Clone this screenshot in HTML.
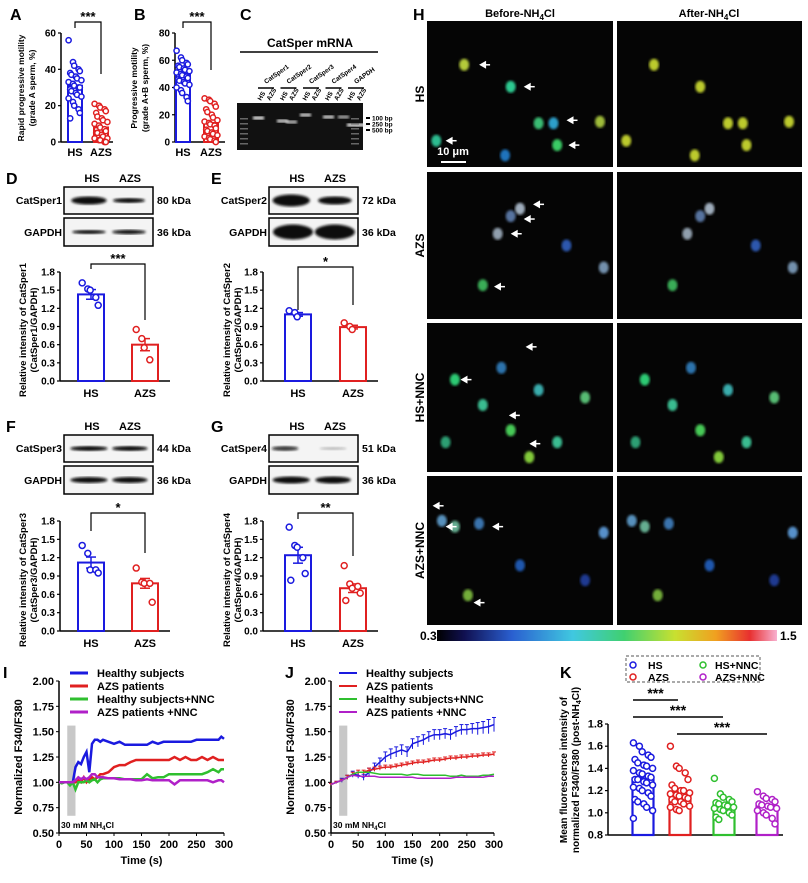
<!DOCTYPE html>
<html><head><meta charset="utf-8"><style>
html,body{margin:0;padding:0;background:#fff}
svg{display:block;font-family:"Liberation Sans",Arial,sans-serif;font-weight:bold}
</style></head><body>
<svg id="fig" width="808" height="883" viewBox="0 0 808 883" xmlns="http://www.w3.org/2000/svg">
<defs>
<filter id="blur1"><feGaussianBlur stdDeviation="1.2"/></filter>
<filter id="blur2"><feGaussianBlur stdDeviation="2"/></filter>
<linearGradient id="cbar" x1="0" x2="1" y1="0" y2="0">
<stop offset="0" stop-color="#000"/><stop offset="0.08" stop-color="#101050"/><stop offset="0.22" stop-color="#2a5fd0"/><stop offset="0.4" stop-color="#40c8e0"/><stop offset="0.55" stop-color="#40d070"/><stop offset="0.7" stop-color="#c8e030"/><stop offset="0.82" stop-color="#f0a020"/><stop offset="0.92" stop-color="#e83030"/><stop offset="1" stop-color="#f8b0d0"/>
</linearGradient>
</defs>
<g id="root"></g>
</svg>
<script>
// ---------- DATA ----------
const groupsAB = ["HS","AZS"];
const A_means = [31, 8];
const A_HS = [56,44,42,40,39,38,37,36,35,34,33,32,31,30,30,29,28,27,26,25,24,22,20,18,16,13];
const A_AZS = [21,20,19,18,17,16,14,13,12,11,10,9,8,7,6,5,5,4,3,2,2,1,1,0,0];
const A_ticks = [0,20,40,60];
const B_means = [50, 14];
const B_HS = [67,62,60,58,57,56,55,54,53,52,51,50,49,48,47,46,45,44,43,42,40,38,36,33,30];
const B_AZS = [32,31,30,28,26,24,22,20,18,16,15,14,13,12,10,9,8,7,6,5,4,3,2,1,0];
const B_ticks = [0,20,40,60,80];
const wb_ticks = [0.0,0.3,0.6,0.9,1.2,1.5,1.8];
const D_means = [1.43, 0.60]; const D_sem = [0.08, 0.10];
const D_HS = [1.62,1.52,1.50,1.38,1.25]; const D_AZS = [0.85,0.70,0.55,0.35];
const E_means = [1.10, 0.89]; const E_sem = [0.03, 0.03];
const E_HS = [1.16,1.13,1.06]; const E_AZS = [0.96,0.90,0.85];
const F_means = [1.12, 0.78]; const F_sem = [0.09, 0.08];
const F_HS = [1.40,1.27,1.00,1.00,0.95]; const F_AZS = [1.03,0.80,0.78,0.78,0.47];
const G_means = [1.24, 0.70]; const G_sem = [0.13, 0.07];
const G_HS = [1.70,1.40,1.37,1.20,0.94,0.83]; const G_AZS = [1.07,0.77,0.70,0.73,0.62,0.50];

const I_time = [0,5,10,15,20,25,30,35,40,45,50,55,60,65,70,75,80,90,100,110,120,130,140,150,160,170,180,190,200,210,220,230,240,250,260,270,280,290,295,300];
const I_blue = [1.0,1.0,1.0,1.0,1.0,1.0,1.15,1.2,1.18,1.25,1.3,1.1,1.38,1.42,1.42,1.4,1.42,1.4,1.38,1.4,1.37,1.37,1.37,1.37,1.37,1.4,1.38,1.4,1.4,1.4,1.4,1.4,1.4,1.42,1.42,1.42,1.42,1.42,1.45,1.43];
const I_red = [1.0,1.0,1.0,1.0,1.0,1.0,1.0,1.02,1.0,1.05,1.0,1.03,1.05,1.03,1.05,1.08,1.08,1.1,1.15,1.17,1.17,1.2,1.22,1.22,1.22,1.22,1.22,1.22,1.22,1.25,1.22,1.25,1.22,1.22,1.25,1.22,1.25,1.22,1.22,1.22];
const I_green = [1.0,0.99,1.0,1.0,0.97,1.0,0.93,1.0,1.0,1.0,1.02,1.0,1.02,1.03,1.0,1.03,1.04,1.04,1.04,1.04,1.03,1.03,1.03,1.03,1.08,1.04,1.05,1.05,1.08,1.08,1.08,1.08,1.08,1.08,1.08,1.1,1.13,1.1,1.13,1.13];
const I_purple = [1.0,1.0,1.0,1.0,1.0,1.0,1.02,1.05,1.03,1.05,1.03,1.05,1.08,1.08,1.05,1.05,1.05,1.04,1.04,1.03,1.03,1.03,1.02,1.02,1.03,1.02,1.02,1.02,1.02,0.98,1.02,1.02,1.02,1.02,1.02,1.02,1.0,1.02,1.02,1.0];

const J_time = [0,10,20,30,40,50,60,70,80,90,100,110,120,130,140,150,160,170,180,190,200,210,220,230,240,250,260,270,280,290,300];
const J_blue = [0.98,1.0,1.02,1.05,1.08,1.07,1.05,1.1,1.15,1.2,1.25,1.28,1.3,1.32,1.3,1.38,1.4,1.42,1.45,1.47,1.47,1.48,1.47,1.5,1.52,1.52,1.53,1.53,1.54,1.55,1.57];
const J_blueErr = [0.01,0.01,0.02,0.02,0.03,0.03,0.03,0.04,0.04,0.04,0.05,0.05,0.05,0.05,0.05,0.05,0.05,0.05,0.05,0.05,0.05,0.05,0.05,0.05,0.05,0.05,0.05,0.06,0.06,0.07,0.07];
const J_red = [0.98,1.0,1.02,1.05,1.08,1.1,1.1,1.12,1.13,1.14,1.15,1.15,1.16,1.17,1.18,1.19,1.2,1.2,1.21,1.22,1.22,1.23,1.24,1.24,1.25,1.25,1.26,1.26,1.27,1.27,1.28];
const J_redErr = [0.01,0.01,0.01,0.02,0.02,0.02,0.02,0.02,0.02,0.02,0.02,0.02,0.02,0.02,0.02,0.02,0.02,0.02,0.02,0.02,0.02,0.02,0.02,0.02,0.02,0.02,0.02,0.02,0.02,0.02,0.02];
const J_green = [0.98,1.0,1.02,1.05,1.08,1.1,1.1,1.1,1.09,1.08,1.08,1.08,1.08,1.08,1.07,1.08,1.08,1.07,1.07,1.07,1.07,1.07,1.06,1.06,1.07,1.06,1.06,1.06,1.07,1.07,1.08];
const J_purple = [0.98,1.0,1.02,1.05,1.07,1.06,1.06,1.06,1.06,1.05,1.05,1.05,1.05,1.05,1.05,1.05,1.04,1.04,1.04,1.04,1.04,1.04,1.04,1.05,1.05,1.05,1.05,1.05,1.05,1.06,1.06];
const IJ_yticks = [0.50,0.75,1.00,1.25,1.50,1.75,2.00];
const IJ_xticks = [0,50,100,150,200,250,300];
const IJ_legend = ["Healthy subjects","AZS patients","Healthy subjects+NNC","AZS patients +NNC"];

const K_groups = ["HS","AZS","HS+NNC","AZS+NNC"];
const K_means = [1.31,1.19,1.07,1.06];
const K_HS = [1.63,1.6,1.55,1.52,1.5,1.48,1.45,1.43,1.42,1.4,1.38,1.36,1.35,1.33,1.32,1.3,1.3,1.28,1.27,1.25,1.23,1.22,1.2,1.18,1.15,1.12,1.1,1.08,1.05,1.02,0.95];
const K_AZS = [1.6,1.42,1.4,1.36,1.3,1.25,1.22,1.2,1.2,1.18,1.17,1.16,1.15,1.14,1.13,1.12,1.1,1.1,1.08,1.06,1.05,1.03,1.02];
const K_HSN = [1.31,1.17,1.14,1.12,1.1,1.09,1.08,1.07,1.06,1.05,1.04,1.03,1.02,1.0,0.98,0.96,0.94];
const K_AZN = [1.19,1.15,1.13,1.12,1.1,1.08,1.07,1.06,1.05,1.04,1.02,1.0,0.98,0.95,0.9];
const K_ticks = [0.8,1.0,1.2,1.4,1.6,1.8];

// ---------- HELPERS ----------
const NS="http://www.w3.org/2000/svg";
const root=document.getElementById('root');
function el(tag,attrs,parent,text){const e=document.createElementNS(NS,tag);for(const k in attrs)e.setAttribute(k,attrs[k]);if(text!==undefined)e.textContent=text;(parent||root).appendChild(e);return e;}
function txt(x,y,s,size,parent,anchor,extra){const t=el('text',Object.assign({x:x,y:y,'font-size':size,'text-anchor':anchor||'middle'},extra||{}),parent,s);return t;}
function panelLabel(x,y,s){const t=txt(x,y,s,16,root,'start');

}
const BLUE='#1a1adf', RED='#e02020', GREEN='#2fbf2f', PURPLE='#b020c8';

function jitter(i,n,w){
  const k=(i%5)-2; return k*w/5 + ((i%2)?0.8:-0.8);
}

function barChart(cfg){
  const g=el('g',{});
  
  
  const ys=v=>cfg.y0-(v-cfg.vmin)/(cfg.vmax-cfg.vmin)*(cfg.y0-cfg.y1);
  el('line',{x1:cfg.ax,y1:ys(cfg.ticks[cfg.ticks.length-1]),x2:cfg.ax,y2:cfg.y0,stroke:'#000','stroke-width':1.5},g);
  el('line',{x1:cfg.ax,y1:cfg.y0,x2:cfg.axEnd,y2:cfg.y0,stroke:'#000','stroke-width':1.5},g);
  cfg.ticks.forEach(t=>{const y=ys(t);
    el('line',{x1:cfg.ax-3,y1:y,x2:cfg.ax,y2:y,stroke:'#000','stroke-width':1.2},g);
    const l=txt(cfg.ax-5,y+3.5,cfg.fmt?cfg.fmt(t):String(t),cfg.tfs||10,g,'end');
    
    
  });
  cfg.cx.forEach((cx,i)=>{
    const col=cfg.colors[i];
    const m=cfg.means[i];
    const r=el('rect',{x:cx-cfg.bw/2,y:ys(m),width:cfg.bw,height:cfg.y0-ys(m),fill:'none',stroke:col,'stroke-width':cfg.sw||2},g);
    
    
    if(cfg.sems){const s=cfg.sems[i];
      el('line',{x1:cx,y1:ys(m-s),x2:cx,y2:ys(m+s),stroke:col,'stroke-width':1.5},g);
      el('line',{x1:cx-5,y1:ys(m+s),x2:cx+5,y2:ys(m+s),stroke:col,'stroke-width':1.5},g);
      el('line',{x1:cx-5,y1:ys(m-s),x2:cx+5,y2:ys(m-s),stroke:col,'stroke-width':1.5},g);
    }
    cfg.points[i].forEach((v,j)=>{
      const c=el('circle',{cx:cx+jitter(j,cfg.points[i].length,cfg.jw||cfg.bw),cy:ys(v),r:cfg.pr||2.8,fill:'#fff',stroke:col,'stroke-width':1.5},g);
      
      
    });
    if(cfg.showX!==false){const l=txt(cx,cfg.y0+(cfg.xoff||14),cfg.groups[i],cfg.xfs||11,g);
      
      }
  });
  if(cfg.sig){const s=cfg.sig;
    const p=el('path',{d:`M${s.x1},${s.y+ (s.down1||6)}V${s.y}H${s.x2}V${s.y2}`,fill:'none',stroke:'#000','stroke-width':1.2},g);
    
    
    const t=txt((s.x1+s.x2)/2,s.y-1,s.label,13,g);
    
    
  }
  if(cfg.ytitle){const yt=el('text',{transform:`translate(${cfg.ytx},${cfg.yty}) rotate(-90)`,'font-size':cfg.ytfs||9.5,'text-anchor':'middle'},g);
    
    
    cfg.ytitle.forEach((line,k)=>{el('tspan',{x:0,dy:k===0?0:11},yt,line);});
  }
  return ys;
}

// ---------- PANEL A ----------
panelLabel(10,20,'A');
barChart({name:'chart-a-rapid-motility',ax:61,axEnd:113,y0:142,y1:33,vmin:0,vmax:60,ticks:A_ticks,cx:[75,101],bw:14,colors:[BLUE,RED],means:A_means,points:[A_HS,A_AZS],groups:groupsAB,pr:2.6,jw:14,
  sig:{x1:75,x2:101,y:22,y2:74,label:'***'},ytitle:['Rapid progressive motility','(grade A sperm, %)'],ytx:24,yty:88,ytfs:8.5,xoff:14});
// ---------- PANEL B ----------
panelLabel(134,20,'B');
barChart({name:'chart-b-progressive-motility',ax:175,axEnd:225,y0:142,y1:33,vmin:0,vmax:80,ticks:B_ticks,cx:[183,211],bw:14,colors:[BLUE,RED],means:B_means,points:[B_HS,B_AZS],groups:groupsAB,pr:2.6,jw:14,
  sig:{x1:183,x2:211,y:22,y2:70,label:'***'},ytitle:['Progressive motility','(grade A+B sperm, %)'],ytx:137,yty:88,ytfs:8.5,xoff:14});

// ---------- PANEL C (gel) ----------
panelLabel(240,20,'C');
(function(){
  const g=el('g',{});
  
  
  txt(310,47,'CatSper mRNA',12,g);
  el('line',{x1:240,y1:52,x2:378,y2:52,stroke:'#000','stroke-width':1.5},g);
  const genes=['CatSper1','CatSper2','CatSper3','CatSper4','GAPDH'];
  genes.forEach((gn,i)=>{const x0=258+i*22.5;
    el('line',{x1:x0,y1:88,x2:x0+16,y2:88,stroke:'#000','stroke-width':1.5},g);
    txt(x0+8,84,gn,6.5,g,'start',{transform:`rotate(-35 ${x0+8} 84)`});
    txt(x0+3,101,'HS',6.5,g,'start',{transform:`rotate(-60 ${x0+3} 101)`});
    txt(x0+12,101,'AZS',6.5,g,'start',{transform:`rotate(-60 ${x0+12} 101)`});
  });
  el('rect',{x:237,y:103,width:126,height:47,fill:'#111'},g);
  const bands=[[258,118,1],[282,121,0.9],[291,122,0.8],[305,115,0.9],[328,117,0.9],[343,117,0.7],[352,125,1],[362,125,1]];
  bands.forEach(b=>el('rect',{x:b[0]-5,y:b[1]-1.5,width:11,height:3,fill:'#eee',opacity:b[2],filter:'url(#blur1)'},g));
  for(let k=0;k<6;k++)el('rect',{x:240,y:118+k*5,width:8,height:1.5,fill:'#666'},g);
  for(let k=0;k<6;k++)el('rect',{x:351,y:118+k*5,width:8,height:1.5,fill:'#666'},g);
  [[118,'100 bp'],[124,'250 bp'],[130,'500 bp']].forEach(r=>{el('rect',{x:366,y:r[0]-1,width:4,height:2,fill:'#000'},g);txt(372,r[0]+2.5,r[1],6.5,g,'start');});
})();

// ---------- Western blots ----------
function blot(x,y,w,h,bands){
  const g=el('g',{});
  
  
  el('rect',{x:x,y:y,width:w,height:h,fill:'#f4f4f4',stroke:'#000','stroke-width':1.5},g);
  bands.forEach(b=>el('ellipse',{cx:x+b[0]*w,cy:y+h/2+(b[3]||0),rx:b[1]*w/2,ry:b[2],fill:'#111',opacity:b[4]||1,filter:'url(#blur1)'},g));
}
function blockWB(ox,oy,letter,protein,kda,b1,b2){
  panelLabel(ox+6,oy+14,letter);
  txt(ox+92,oy+12,'HS',11,root); txt(ox+130,oy+12,'AZS',11,root);
  blot(ox+64,oy+17,89,27,b1); blot(ox+64,oy+48,89,28,b2);
  txt(ox+62,oy+34,protein,10.5,root,'end'); txt(ox+62,oy+66,'GAPDH',10.5,root,'end');
  txt(ox+157,oy+34,kda,10.5,root,'start'); txt(ox+157,oy+66,'36 kDa',10.5,root,'start');
}
blockWB(0,170,'D','CatSper1','80 kDa',[[0.28,0.4,4],[0.73,0.36,2.5]],[[0.28,0.38,2],[0.73,0.38,2.2]]);
blockWB(205,170,'E','CatSper2','72 kDa',[[0.25,0.42,6],[0.74,0.38,4]],[[0.27,0.45,7.5],[0.74,0.45,7.5]]);
blockWB(0,418,'F','CatSper3','44 kDa',[[0.28,0.42,2.5],[0.74,0.4,2.5]],[[0.28,0.42,3],[0.74,0.4,3]]);
blockWB(205,418,'G','CatSper4','51 kDa',[[0.18,0.3,2.5,0,0.8],[0.72,0.3,1.5,0,0.25]],[[0.25,0.42,3.5],[0.72,0.4,3.5]]);

const f1=v=>v.toFixed(1);
barChart({name:'chart-d-catsper1',ax:60,axEnd:170,y0:381,y1:272,vmin:0,vmax:1.8,ticks:wb_ticks,fmt:f1,cx:[91,145],bw:26,colors:[BLUE,RED],means:D_means,sems:D_sem,points:[D_HS,D_AZS],groups:groupsAB,jw:20,pr:3,
  sig:{x1:91,x2:145,y:264,y2:320,label:'***',down1:5},ytitle:['Relative intensity of CatSper1','(CatSper1/GAPDH)'],ytx:26,yty:330,xoff:16});
barChart({name:'chart-e-catsper2',ax:263,axEnd:378,y0:381,y1:272,vmin:0,vmax:1.8,ticks:wb_ticks,fmt:f1,cx:[298,353],bw:26,colors:[BLUE,RED],means:E_means,sems:E_sem,points:[E_HS,E_AZS],groups:groupsAB,jw:20,pr:3,
  sig:{x1:298,x2:353,y:267,y2:305,label:'*',down1:43},ytitle:['Relative intensity of CatSper2','(CatSper2/GAPDH)'],ytx:230,yty:330,xoff:16});
barChart({name:'chart-f-catsper3',ax:60,axEnd:170,y0:631,y1:521,vmin:0,vmax:1.8,ticks:wb_ticks,fmt:f1,cx:[91,145],bw:26,colors:[BLUE,RED],means:F_means,sems:F_sem,points:[F_HS,F_AZS],groups:groupsAB,jw:20,pr:3,
  sig:{x1:91,x2:145,y:513,y2:553,label:'*',down1:18},ytitle:['Relative intensity of CatSper3','(CatSper3/GAPDH)'],ytx:26,yty:580,xoff:16});
barChart({name:'chart-g-catsper4',ax:263,axEnd:378,y0:631,y1:521,vmin:0,vmax:1.8,ticks:wb_ticks,fmt:f1,cx:[298,353],bw:26,colors:[BLUE,RED],means:G_means,sems:G_sem,points:[G_HS,G_AZS],groups:groupsAB,jw:20,pr:3,
  sig:{x1:298,x2:353,y:513,y2:556,label:'**',down1:6},ytitle:['Relative intensity of CatSper4','(CatSper4/GAPDH)'],ytx:230,yty:580,xoff:16});

// ---------- PANEL H (imaging) ----------
panelLabel(413,20,'H');
(function(){
  const h1=el('text',{x:520,y:17,'font-size':11,'text-anchor':'middle'});
  
  
  h1.innerHTML='Before-NH<tspan font-size="8" dy="3">4</tspan><tspan dy="-3">Cl</tspan>';
  const h2=el('text',{x:709,y:17,'font-size':11,'text-anchor':'middle'});
  
  
  h2.innerHTML='After-NH<tspan font-size="8" dy="3">4</tspan><tspan dy="-3">Cl</tspan>';
  const rows=[[21,167,'HS'],[172,319,'AZS'],[323,472,'HS+NNC'],[476,625,'AZS+NNC']];
  const blobs=[
    [[0.2,0.3,'#c8e040'],[0.45,0.45,'#30e0a0'],[0.6,0.7,'#40d080'],[0.68,0.7,'#30b0e0'],[0.05,0.82,'#30d0a0'],[0.7,0.85,'#40e070'],[0.93,0.69,'#b0d040'],[0.42,0.92,'#2080d0']],
    [[0.5,0.25,'#b0c0d0'],[0.45,0.3,'#6080b0'],[0.38,0.42,'#a0b0c0'],[0.3,0.77,'#40c060'],[0.75,0.5,'#3060c0'],[0.95,0.65,'#80a0c0']],
    [[0.15,0.38,'#30e080'],[0.3,0.55,'#40d0a0'],[0.45,0.72,'#50e060'],[0.6,0.45,'#40c0c0'],[0.7,0.8,'#40d0a0'],[0.1,0.8,'#30b080'],[0.85,0.5,'#60d080'],[0.4,0.3,'#3080c0'],[0.55,0.9,'#90e040']],
    [[0.08,0.3,'#60a0d0'],[0.28,0.32,'#4080c0'],[0.15,0.34,'#70c0a0'],[0.22,0.8,'#80c040'],[0.5,0.6,'#2060c0'],[0.95,0.38,'#60a0e0'],[0.85,0.7,'#2040a0']]
  ];
  const arrows=[[[0.28,0.3],[0.52,0.45],[0.75,0.68],[0.1,0.82],[0.76,0.85]],[[0.57,0.22],[0.52,0.32],[0.45,0.42],[0.36,0.78]],[[0.18,0.38],[0.53,0.16],[0.44,0.62],[0.55,0.81]],[[0.03,0.2],[0.1,0.34],[0.35,0.34],[0.25,0.85]]];
  rows.forEach((r,ri)=>{
    [[427,613],[617,802]].forEach((c,ci)=>{
      const g=el('g',{});
      
      
      const w=c[1]-c[0], h=r[1]-r[0];
      el('rect',{x:c[0],y:r[0],width:w,height:h,fill:'#050505'},g);
      blobs[ri].forEach(b=>{
        let col=b[2]; if(ci===1&&ri===0)col='#d0e030';
        el('ellipse',{cx:c[0]+b[0]*w,cy:r[0]+b[1]*h,rx:5,ry:6,fill:col,opacity:0.9,filter:'url(#blur1)'},g);
      });
      if(ci===0)arrows[ri].forEach(a=>{const ax=c[0]+a[0]*w, ay=r[0]+a[1]*h;
        el('path',{d:`M${ax},${ay}l7,-4v8z`,fill:'#fff'},g);
        el('line',{x1:ax+6,y1:ay,x2:ax+11,y2:ay,stroke:'#fff','stroke-width':1.5},g);});
    });
    const rl=txt(0,0,r[2],12,root,'middle',{transform:`translate(${424},${(r[0]+r[1])/2}) rotate(-90)`});
    
    
  });
  const sb=txt(453,155,'10 μm',11,root,'middle',{fill:'#fff'});
  
  
  el('rect',{x:441,y:161,width:25,height:2,fill:'#fff'});
  const cb=el('rect',{x:437,y:630,width:340,height:11,fill:'url(#cbar)'});
  
  
  txt(420,640,'0.3',12,root,'start'); txt(780,640,'1.5',12,root,'start');
})();

// ---------- Time course charts ----------
function timeChart(cfg){
  const g=el('g',{});
  
  
  const xs=t=>cfg.x0+t/300*(cfg.x1-cfg.x0);
  const ys=v=>833-(v-0.5)/1.5*(833-681);
  el('line',{x1:cfg.x0,y1:681,x2:cfg.x0,y2:833,stroke:'#000','stroke-width':1.5},g);
  el('line',{x1:cfg.x0,y1:833,x2:cfg.x1,y2:833,stroke:'#000','stroke-width':1.5},g);
  IJ_yticks.forEach(v=>{el('line',{x1:cfg.x0-3,y1:ys(v),x2:cfg.x0,y2:ys(v),stroke:'#000'},g);txt(cfg.x0-5,ys(v)+4,v.toFixed(2),11,g,'end');});
  IJ_xticks.forEach(v=>{el('line',{x1:xs(v),y1:833,x2:xs(v),y2:836,stroke:'#000'},g);txt(xs(v),848,String(v),11,g);});
  const xt=txt((cfg.x0+cfg.x1)/2,864,'Time (s)',11,g);
  
  
  const yt=txt(0,0,'Normalized F340/F380',11,g,'middle',{transform:`translate(${cfg.x0-37},757) rotate(-90)`});
  
  
  const band=el('rect',{x:xs(15),y:ys(1.56),width:xs(30)-xs(15),height:ys(0.67)-ys(1.56),fill:'#c8c8c8'},g);
  
  
  const lab=el('text',{x:cfg.x0+2,y:ys(0.58)+3,'font-size':8.5},g);
  lab.innerHTML='30 mM NH<tspan font-size="6" dy="2">4</tspan><tspan dy="-2">Cl</tspan>';
  const cols=[BLUE,RED,GREEN,PURPLE];
  cfg.series.forEach((s,i)=>{
    if(cfg.errs&&cfg.errs[i]){cfg.errs[i].forEach((e,j)=>{const x=xs(cfg.time[j]);
      el('line',{x1:x,y1:ys(s[j]-e),x2:x,y2:ys(s[j]+e),stroke:cols[i],'stroke-width':1},g);
      el('line',{x1:x-2,y1:ys(s[j]+e),x2:x+2,y2:ys(s[j]+e),stroke:cols[i],'stroke-width':1},g);});}
    const d=s.map((v,j)=>(j?'L':'M')+xs(cfg.time[j]).toFixed(1)+','+ys(v).toFixed(1)).join('');
    const p=el('path',{d:d,fill:'none',stroke:cols[i],'stroke-width':cfg.lw},g);
    
    
  });
  IJ_legend.forEach((n,i)=>{const y=673+i*13;
    el('line',{x1:cfg.lx,y1:y,x2:cfg.lx+18,y2:y,stroke:cols[i],'stroke-width':cfg.lw+0.5},g);
    const t=txt(cfg.lx+27,y+4,n,11,g,'start');
    
    
  });
}
panelLabel(3,678,'I');
timeChart({name:'chart-i-single-cell',x0:59,x1:224,time:I_time,series:[I_blue,I_red,I_green,I_purple],lw:2.5,lx:70});
panelLabel(285,678,'J');
timeChart({name:'chart-j-mean-response',x0:331,x1:494,time:J_time,series:[J_blue,J_red,J_green,J_purple],errs:[J_blueErr,J_redErr,null,null],lw:1.5,lx:339});

// ---------- PANEL K ----------
panelLabel(560,678,'K');
(function(){
  const lg=el('g',{});
  
  
  el('rect',{x:626,y:656,width:134,height:26,fill:'none',stroke:'#777','stroke-dasharray':'3,2','stroke-width':1.2},lg);
  const cols=[BLUE,RED,GREEN,PURPLE];
  K_groups.forEach((n,i)=>{const x=633+Math.floor(i/2)*70, y=665+(i%2)*12;
    el('circle',{cx:x,cy:y,r:3,fill:'none',stroke:cols[i],'stroke-width':1.5},lg);
    const t=txt(x+(i<2?15:12),y+4,n,10.5,lg,'start');
    
    
  });
  barChart({name:'chart-k-mean-fluorescence',ax:608,axEnd:783,y0:835,y1:724,vmin:0.8,vmax:1.8,ticks:K_ticks,fmt:f1,cx:[643,680,724,767],bw:21,colors:cols,means:K_means,points:[K_HS,K_AZS,K_HSN,K_AZN],groups:K_groups,showX:false,pr:3,jw:22,tfs:11,sw:2.2});
  [[633,678,700],[633,723,717],[677,767,734]].forEach(s=>{
    el('line',{x1:s[0],y1:s[2],x2:s[1],y2:s[2],stroke:'#000','stroke-width':1.5});
    const t=txt((s[0]+s[1])/2,s[2]-2,'***',14,root);
    
    
  });
  const yt=el('text',{transform:'translate(567,770) rotate(-90)','font-size':10,'text-anchor':'middle'});
  
  
  yt.innerHTML='<tspan x="0" dy="0">Mean fluorescence intensity of</tspan><tspan x="0" dy="12">normalized F340/F380 (post-NH<tspan font-size="7" dy="2">4</tspan><tspan dy="-2">Cl)</tspan></tspan>';
})();
</script>
</body></html>
